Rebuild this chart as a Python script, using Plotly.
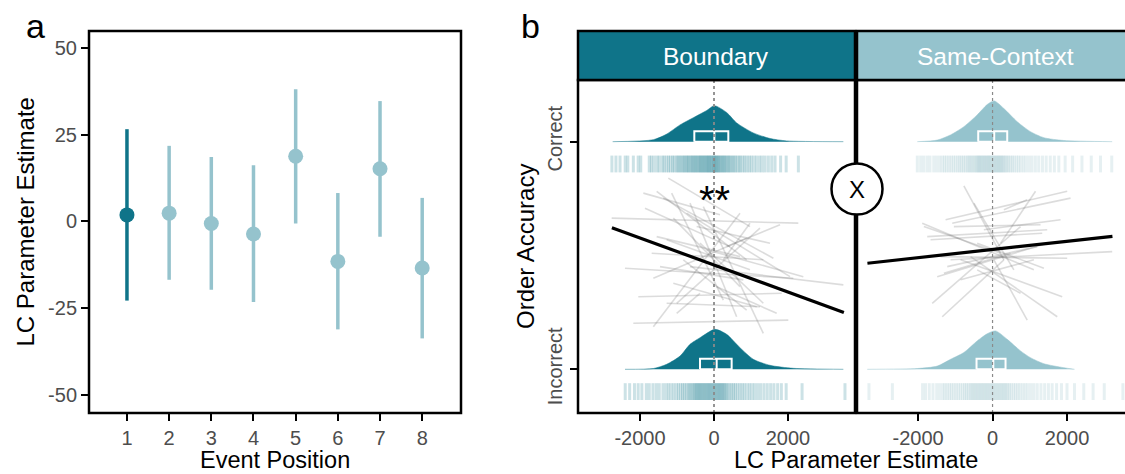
import plotly.graph_objects as go

W, H = 1125, 474
DARK = "#0F7489"
LIGHT = "#95C3CD"
TXT_GREY = "#4D4D4D"
FONT = "Liberation Sans, Arial, Helvetica, sans-serif"

# ---------------- Panel a data ----------------
event_position = [1, 2, 3, 4, 5, 6, 7, 8]
lc_estimate = [1.9, 2.4, -0.6, -3.6, 18.8, -11.5, 15.2, -13.4]
ci_low = [-22.8, -16.8, -19.7, -23.2, -0.6, -31.1, -4.4, -33.7]
ci_high = [26.6, 21.8, 18.6, 16.2, 38.1, 8.2, 34.7, 6.8]
a_yticks = [-50, -25, 0, 25, 50]

# ---------------- Panel b data ----------------
conditions = ["Boundary", "Same-Context"]
b_xticks = [-2000, 0, 2000]
outcome_vals = [0, 1]
outcome_labels = ["Incorrect", "Correct"]

# densities of LC estimate (relative heights)
dens_x_bound_correct = [-2739, -1640, -1279, -919, -559, -198, 9, 342, 613, 1063, 1514, 1964, 3496]
dens_h_bound_correct = [0, 0.05, 0.19, 0.42, 0.60, 0.78, 0.90, 0.73, 0.47, 0.22, 0.08, 0.02, 0]
dens_x_bound_incorrect = [-2406, -1640, -1279, -919, -649, -378, 27, 342, 703, 1063, 1514, 2144, 3496]
dens_h_bound_incorrect = [0, 0.02, 0.125, 0.33, 0.625, 0.79, 1.0, 0.875, 0.54, 0.25, 0.10, 0.025, 0]
dens_x_sc_correct = [-2022, -1486, -1128, -770, -412, -143, 45, 304, 662, 1020, 1378, 1915, 3213]
dens_h_sc_correct = [0, 0.04, 0.17, 0.375, 0.67, 0.93, 1.02, 0.83, 0.50, 0.25, 0.10, 0.03, 0]
dens_x_sc_incorrect = [-3365, -2022, -1486, -1128, -770, -412, -143, 81, 394, 752, 1020, 1378, 1915, 2202]
dens_h_sc_incorrect = [0, 0.02, 0.08, 0.25, 0.42, 0.71, 0.89, 0.96, 0.75, 0.46, 0.29, 0.14, 0.04, 0]

# interquartile boxes and medians
box_bound_correct = [-532, 387, 9]
box_bound_incorrect = [-378, 477, 72]
box_sc_correct = [-385, 394, 45]
box_sc_incorrect = [-430, 349, 20]

# rug (trial-level estimates)
rug_bound_correct = [-2760, -2650, -2540, -2400, -2330, -2180, -2050, -1980, -1750, -1690, -1620, -1540,
                     -1480, -1400, -1350, -1290, -1230, -1180, -1120, -1080, -1020, -980, -940, -900,
                     -860, -820, -790, -750, -720, -690, -650, -620, -590, -560, -530, -500, -470, -440,
                     -410, -380, -360, -330, -300, -280, -250, -220, -200, -170, -150, -120, -100, -70,
                     -50, -20, 0, 20, 40, 70, 90, 120, 140, 170, 200, 230, 260, 290, 320, 350, 390, 420,
                     460, 500, 540, 580, 630, 680, 720, 780, 830, 890, 950, 1010, 1080, 1150, 1230, 1300,
                     1380, 1470, 1560, 1650, 1800, 1950, 2280]
rug_bound_incorrect = [-2400, -2280, -2150, -2050, -1950, -1830, -1750, -1650, -1560, -1480, -1380, -1300,
                       -1230, -1160, -1090, -1020, -960, -900, -850, -800, -750, -700, -660, -620, -580,
                       -540, -510, -480, -450, -420, -390, -360, -330, -300, -270, -240, -210, -180, -150,
                       -120, -90, -60, -30, 0, 30, 60, 90, 120, 150, 180, 210, 240, 270, 300, 340, 380, 430,
                       480, 530, 580, 640, 700, 760, 820, 890, 960, 1030, 1100, 1180, 1260, 1350, 1440,
                       1530, 1620, 1720, 1820, 1950, 2380, 3540]
rug_sc_correct = [-2020, -1930, -1850, -1760, -1680, -1580, -1500, -1420, -1350, -1290, -1230, -1170, -1110,
                  -1050, -990, -930, -880, -830, -780, -730, -680, -640, -600, -560, -520, -480, -440, -410,
                  -380, -350, -320, -290, -260, -230, -200, -170, -140, -110, -80, -50, -20, 10, 40, 70, 100,
                  130, 160, 190, 220, 250, 280, 310, 350, 390, 430, 480, 530, 580, 640, 700, 760, 830, 900,
                  980, 1060, 1150, 1240, 1340, 1440, 1550, 1660, 1780, 1950, 2150, 2400, 2650, 2900, 3200]
rug_sc_incorrect = [-3320, -2690, -1880, -1800, -1700, -1600, -1500, -1420, -1340, -1280, -1220, -1160, -1100,
                    -1040, -980, -920, -860, -800, -750, -700, -650, -600, -560, -520, -480, -440, -400, -360,
                    -320, -280, -240, -200, -160, -120, -80, -40, 0, 40, 80, 120, 160, 200, 240, 280, 320, 360,
                    400, 450, 500, 560, 620, 680, 740, 810, 880, 950, 1030, 1110, 1200, 1300, 1400, 1500, 1600,
                    1720, 1850, 2000, 2200, 2450, 2700, 3000, 3500]

# participant-level fitted lines (start/end)
subj_bound_x0 = [-2766, -2406, -2046, -2181, -1235, -1910, -1550, -1370, -1865, -1145, -649, -289, -1640, -1009,
                 -1640, 342, -649, -1100, 72, -1550, -1685, -1280, -1009, -739, -469, -1100, -198, -1460, -829,
                 252, -1280, -379]
subj_bound_y0 = [0.664, 0.444, 0.319, 0.202, 0.840, 0.774, 0.782, 0.752, 0.708, 0.774, 0.730, 0.715, 0.187, 0.290,
                 0.400, 0.539, 0.451, 0.378, 0.363, 0.583, 0.510, 0.569, 0.246, 0.686, 0.627, 0.664, 0.525, 0.451,
                 0.481, 0.481, 0.290, 0.554]
subj_bound_x1 = [2279, 2144, 1829, 2009, 973, 162, 883, 1604, 432, 252, 612, 1333, 703, 1243, 883, 1784, 3496,
                 1153, 1694, 703, 1333, 973, -379, 2054, 1513, 703, 2414, 793, 883, 973, 1243, 1333]
subj_bound_y1 = [0.642, 0.400, 0.334, 0.216, 0.627, 0.679, 0.481, 0.488, 0.539, 0.304, 0.231, 0.158, 0.686, 0.620,
                 0.576, 0.635, 0.371, 0.275, 0.246, 0.495, 0.481, 0.437, 0.334, 0.407, 0.554, 0.363, 0.407, 0.393,
                 0.260, 0.642, 0.275, 0.290]
subj_sc_x0 = [-770, 215, -1262, -1083, -1888, -1754, -1665, -1486, -1620, -1351, 36, -591, -859, -1128, -1396,
              -1038, -412, -1217, -859, -1844, -501, 305, -1307, -233, -412]
subj_sc_y0 = [0.806, 0.554, 0.657, 0.642, 0.642, 0.583, 0.569, 0.407, 0.290, 0.231, 0.481, 0.495, 0.481, 0.481,
              0.495, 0.627, 0.554, 0.451, 0.393, 0.627, 0.730, 0.701, 0.422, 0.613, 0.437]
subj_sc_x1 = [305, 1155, 2005, 2095, 1110, 1468, 1334, 1468, 752, 305, 931, 1737, 1871, 3213, 2005, 1289, 1379,
              1200, 1110, 215, 573, 931, 484, 1826, 752]
subj_sc_y1 = [0.481, 0.782, 0.782, 0.752, 0.437, 0.613, 0.598, 0.554, 0.627, 0.481, 0.216, 0.231, 0.319, 0.517,
              0.488, 0.635, 0.444, 0.539, 0.481, 0.510, 0.437, 0.745, 0.510, 0.657, 0.334]

# group-level fitted lines
fit_bound_x = [-2760, 3510]
fit_bound_y = [0.622, 0.250]
fit_sc_x = [-3360, 3220]
fit_sc_y = [0.466, 0.584]

# ---------------- helpers ----------------
def px(p):
    return p / W


def py(p):
    return 1 - p / H


B_YRANGE = [-0.192, 1.271]
DENS_SCALE = 0.1757   # y units per unit relative density
BOX_H = 0.046
RUG_OFFSET = 0.098

fig = go.Figure()

# ---------------- Panel a traces ----------------
def err_trace(idx, col):
    xs = [event_position[i] for i in idx]
    ys = [lc_estimate[i] for i in idx]
    up = [ci_high[i] - lc_estimate[i] for i in idx]
    dn = [lc_estimate[i] - ci_low[i] for i in idx]
    return go.Scatter(x=xs, y=ys, mode="markers", xaxis="x", yaxis="y",
                      marker=dict(size=15, color=col, line=dict(width=0)),
                      error_y=dict(type="data", symmetric=False, array=up, arrayminus=dn,
                                   width=0, thickness=3.5, color=col),
                      showlegend=False, hoverinfo="skip")

fig.add_trace(err_trace(list(range(1, 8)), LIGHT))
fig.add_trace(err_trace([0], DARK))

# ---------------- Panel b traces ----------------
panels = [
    dict(xa="x2", ya="y2", col=DARK, rgb=(15, 116, 137), rug_a=0.21,
         dens=[(dens_x_bound_correct, dens_h_bound_correct, 1, box_bound_correct, rug_bound_correct),
               (dens_x_bound_incorrect, dens_h_bound_incorrect, 0, box_bound_incorrect, rug_bound_incorrect)],
         subj=(subj_bound_x0, subj_bound_y0, subj_bound_x1, subj_bound_y1),
         fit=(fit_bound_x, fit_bound_y), dot_col="#8A8A8A", dot_w=1.8),
    dict(xa="x3", ya="y3", col=LIGHT, rgb=(120, 175, 188), rug_a=0.19,
         dens=[(dens_x_sc_correct, dens_h_sc_correct, 1, box_sc_correct, rug_sc_correct),
               (dens_x_sc_incorrect, dens_h_sc_incorrect, 0, box_sc_incorrect, rug_sc_incorrect)],
         subj=(subj_sc_x0, subj_sc_y0, subj_sc_x1, subj_sc_y1),
         fit=(fit_sc_x, fit_sc_y), dot_col="#8A8A8A", dot_w=1.2),
]

for p in panels:
    xa, ya = p["xa"], p["ya"]
    # participant lines
    sx0, sy0, sx1, sy1 = p["subj"]
    for a, b, c, d in zip(sx0, sy0, sx1, sy1):
        fig.add_trace(go.Scatter(x=[a, c], y=[b, d], mode="lines", xaxis=xa, yaxis=ya,
                                 line=dict(color="rgba(110,110,110,0.24)", width=1.6),
                                 showlegend=False, hoverinfo="skip"))
    for dx, dh, base, box, rug in p["dens"]:
        fig.add_trace(go.Scatter(x=dx, y=[base + DENS_SCALE * h for h in dh], mode="lines",
                                 xaxis=xa, yaxis=ya, fill="toself", fillcolor=p["col"],
                                 line=dict(color=p["col"], width=0.5, shape="spline", smoothing=0.7),
                                 showlegend=False, hoverinfo="skip"))
        lo, hi, med = box
        fig.add_trace(go.Scatter(x=[lo, hi, hi, lo, lo, None, med, med],
                                 y=[base, base, base + BOX_H, base + BOX_H, base, None, base, base + BOX_H],
                                 mode="lines", xaxis=xa, yaxis=ya,
                                 line=dict(color="white", width=2),
                                 showlegend=False, hoverinfo="skip"))
        r, g, b_ = p["rgb"]
        rc = "rgba(%d,%d,%d,%.2f)" % (r, g, b_, p["rug_a"])
        fig.add_trace(go.Scatter(x=rug, y=[base - RUG_OFFSET] * len(rug), mode="markers",
                                 xaxis=xa, yaxis=ya,
                                 marker=dict(symbol="line-ns", size=12, color=rc,
                                             line=dict(color=rc, width=3)),
                                 showlegend=False, hoverinfo="skip"))
    # zero reference
    fig.add_trace(go.Scatter(x=[0, 0], y=B_YRANGE, mode="lines", xaxis=xa, yaxis=ya,
                             line=dict(color=p["dot_col"], width=p["dot_w"], dash="dot"),
                             showlegend=False, hoverinfo="skip"))
    fx, fy = p["fit"]
    fig.add_trace(go.Scatter(x=fx, y=fy, mode="lines", xaxis=xa, yaxis=ya,
                             line=dict(color="black", width=3.2),
                             showlegend=False, hoverinfo="skip"))

# ---------------- axes ----------------
tick_common = dict(ticks="outside", ticklen=7, tickwidth=2, tickcolor="black",
                   showline=False, showgrid=False, zeroline=False,
                   tickfont=dict(size=20, color=TXT_GREY, family=FONT))

fig.update_layout(
    xaxis=dict(domain=[px(89), px(461)], anchor="y", range=[0.1, 8.92],
               tickvals=event_position, ticktext=[str(v) for v in event_position], **tick_common),
    yaxis=dict(domain=[py(413), py(31)], anchor="x", range=[-55.2, 54.9],
               tickvals=a_yticks, ticktext=[str(v) for v in a_yticks], **tick_common),
    xaxis2=dict(domain=[px(578), px(855)], anchor="y2", range=[-3676, 3811],
                tickvals=b_xticks, ticktext=[str(v) for v in b_xticks], **tick_common),
    yaxis2=dict(domain=[py(413), py(80)], anchor="x2", range=B_YRANGE,
                tickvals=outcome_vals, ticktext=outcome_labels, tickangle=-90, **tick_common),
    xaxis3=dict(domain=[px(857), 1.0], anchor="y3", range=[-3640, 3557],
                tickvals=b_xticks, ticktext=[str(v) for v in b_xticks], **tick_common),
    yaxis3=dict(domain=[py(413), py(80)], anchor="x3", range=B_YRANGE,
                showticklabels=False, ticks="", showline=False, showgrid=False, zeroline=False),
)

# ---------------- shapes ----------------
shapes = []
def rect(x0, y0, x1, y1, fill="rgba(0,0,0,0)"):
    shapes.append(dict(type="rect", xref="paper", yref="paper",
                       x0=px(x0), x1=px(x1), y0=py(y1), y1=py(y0),
                       line=dict(color="black", width=2.5), fillcolor=fill, layer="above"))

rect(89, 31, 461, 413)
rect(578, 80, 855, 413)
rect(578, 31, 855, 80, DARK)
rect(857, 80, 1140, 413)
rect(857, 31, 1140, 80, LIGHT)
shapes.append(dict(type="circle", xref="paper", yref="paper",
                   x0=px(831.5), x1=px(882.5), y0=py(214.5), y1=py(163.5),
                   line=dict(color="black", width=2.5), fillcolor="white", layer="above"))
fig.update_layout(shapes=shapes)

# ---------------- annotations ----------------
def ann(text, x, y, size, color="black", angle=0, xanchor="center"):
    return dict(text=text, x=px(x), y=py(y), xref="paper", yref="paper", showarrow=False,
                xanchor=xanchor, yanchor="middle", textangle=angle,
                font=dict(size=size, color=color, family=FONT))

fig.update_layout(annotations=[
    ann("a", 24, 26, 34, xanchor="left"),
    ann("b", 519, 26, 34, xanchor="left"),
    ann("LC Parameter Estimate", 24.5, 222, 24, angle=-90),
    ann("Event Position", 275, 460, 23.5),
    ann("Order Accuracy", 526, 247, 24, angle=-90),
    ann("LC Parameter Estimate", 856, 460, 23.5),
    ann(conditions[0], 716.5, 56, 24.5, color="white"),
    ann(conditions[1], 995.5, 56, 24.5, color="white"),
    ann("**", 714, 200, 40),
    ann("X", 857, 189, 24),
])

fig.update_layout(width=W, height=H, margin=dict(l=0, r=0, t=0, b=0),
                  paper_bgcolor="white", plot_bgcolor="white",
                  font=dict(family=FONT), showlegend=False)

fig.write_html("out.html", config={"displayModeBar": False},
               post_script="document.body.style.margin='0';document.body.style.overflow='hidden';")
